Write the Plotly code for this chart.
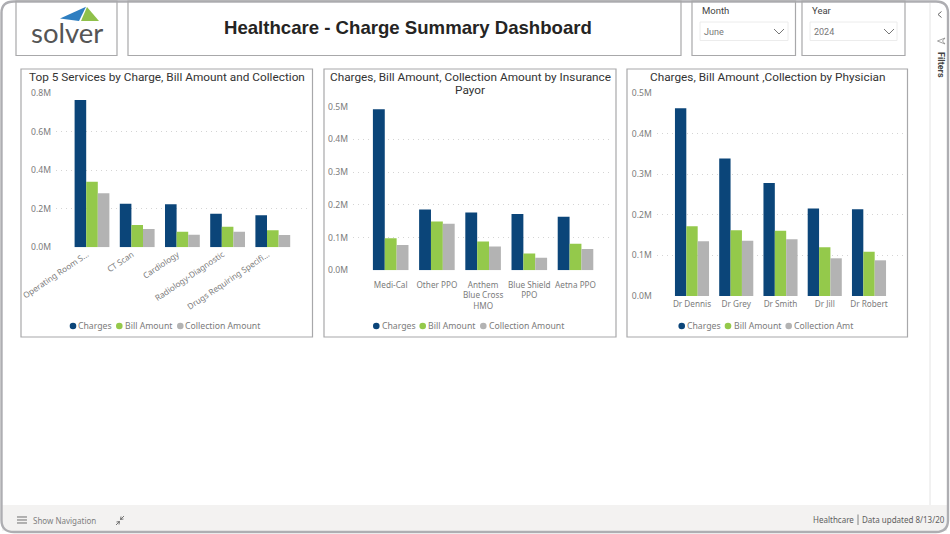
import plotly.graph_objects as go

W, H = 950, 534
NAVY, GREEN, GREY = "#0b4579", "#94c94b", "#b3b3b3"
TXT = "#7b7b7b"
EDGE = "#a8a8aa"

services = ["Operating Room S...", "CT Scan", "Cardiology", "Radiology-Diagnostic", "Drugs Requiring Specifi..."]
svc_charges = [0.764, 0.226, 0.223, 0.174, 0.166]
svc_bill = [0.340, 0.116, 0.081, 0.107, 0.088]
svc_coll = [0.280, 0.095, 0.065, 0.081, 0.064]

payors = ["Medi-Cal", "Other PPO", "Anthem<br>Blue Cross<br>HMO", "Blue Shield<br>PPO", "Aetna PPO"]
pay_charges = [0.492, 0.186, 0.177, 0.172, 0.164]
pay_bill = [0.098, 0.149, 0.088, 0.051, 0.081]
pay_coll = [0.077, 0.142, 0.073, 0.038, 0.065]

physicians = ["Dr Dennis", "Dr Grey", "Dr Smith", "Dr Jill", "Dr Robert"]
phy_charges = [0.463, 0.339, 0.279, 0.216, 0.214]
phy_bill = [0.172, 0.162, 0.161, 0.120, 0.109]
phy_coll = [0.135, 0.136, 0.140, 0.093, 0.088]


def px(x):
    return x / W


def py(y):
    return 1 - y / H


charts = [
    dict(cats=services, s=(svc_charges, svc_bill, svc_coll), names=("Charges", "Bill Amount", "Collection Amount"),
         x0=56, x1=310, ytop=93, ybot=247.3, first=92, step=45.2, ymax=0.8, dtick=0.2, angle=-34, standoff=0, shift=-5,
         panel=(21, 69, 312.5, 337), title=["Top 5 Services by Charge, Bill Amount and Collection"], title_y=[77],
         leg_c=(73, 119.3, 180.3), leg_t=(78.3, 124.7, 185.3)),
    dict(cats=payors, s=(pay_charges, pay_bill, pay_coll), names=("Charges", "Bill Amount", "Collection Amount"),
         x0=353, x1=613, ytop=106.7, ybot=270.3, first=390.7, step=46.2, ymax=0.5, dtick=0.1, angle=0, standoff=8, shift=0,
         panel=(324, 69, 616, 337), title=["Charges, Bill Amount, Collection Amount by Insurance", "Payor"], title_y=[77, 90],
         leg_c=(376.3, 422.7, 483.3), leg_t=(382, 428.3, 489)),
    dict(cats=physicians, s=(phy_charges, phy_bill, phy_coll), names=("Charges", "Bill Amount", "Collection Amt"),
         x0=656.7, x1=903, ytop=93.3, ybot=296, first=692, step=44.25, ymax=0.5, dtick=0.1, angle=0, standoff=2, shift=0,
         panel=(627, 69, 907.5, 337), title=["Charges, Bill Amount ,Collection by Physician"], title_y=[77],
         leg_c=(681.7, 728, 788.7), leg_t=(687, 733.7, 794.3)),
]

fig = go.Figure()
shapes, annos = [], []


def rect(x0, y0, x1, y1, line=EDGE, width=1.2, fill="rgba(0,0,0,0)", layer="below"):
    shapes.append(dict(type="rect", xref="paper", yref="paper", x0=px(x0), x1=px(x1), y0=py(y0), y1=py(y1),
                       line=dict(color=line, width=width), fillcolor=fill, layer=layer))


def path(points, fill=None, line=None, width=1, close=False):
    d = "M" + " L".join(f"{px(a):.5f},{py(b):.5f}" for a, b in points) + (" Z" if close else "")
    shapes.append(dict(type="path", xref="paper", yref="paper", path=d, fillcolor=fill or "rgba(0,0,0,0)",
                       line=dict(color=line or "rgba(0,0,0,0)", width=width), layer="below"))


def dot(x, y, r, color):
    shapes.append(dict(type="circle", xref="paper", yref="paper", x0=px(x - r), x1=px(x + r), y0=py(y + r),
                       y1=py(y - r), fillcolor=color, line=dict(width=0), layer="above"))


def text(x, y, s, size=9, color=TXT, family="Noto Sans", anchor="left", angle=0):
    if anchor == "left":
        x -= 2
    elif anchor == "right":
        x += 2
    annos.append(dict(xref="paper", yref="paper", x=px(x), y=py(y), text=s, showarrow=False, xanchor=anchor,
                      yanchor="middle", textangle=angle, align="center",
                      font=dict(size=size, color=color, family=family)))


# Bottom bar, filter pane divider and outer window frame
rect(2, 505, 947, 531, line="rgba(0,0,0,0)", width=0, fill="#f3f2f1")
shapes.append(dict(type="line", xref="paper", yref="paper", x0=px(930), x1=px(930), y0=py(3), y1=py(505),
                   line=dict(color="#e4e4e4", width=1), layer="below"))
shapes.append(dict(type="path", xref="paper", yref="paper", layer="below", fillcolor="rgba(0,0,0,0)",
                   line=dict(color="#aeaeb2", width=2.4),
                   path=(f"M{px(14)},{py(1.5)} L{px(936)},{py(1.5)} Q{px(948)},{py(1.5)} {px(948)},{py(13)} "
                         f"L{px(948)},{py(520)} Q{px(948)},{py(532)} {px(936)},{py(532)} "
                         f"L{px(14)},{py(532)} Q{px(1.5)},{py(532)} {px(1.5)},{py(520)} "
                         f"L{px(1.5)},{py(13)} Q{px(1.5)},{py(1.5)} {px(14)},{py(1.5)} Z")))

# Header boxes
rect(16, 1, 117, 55.5)
rect(128, 1, 681, 55.5)
rect(692, 1, 795.5, 55.5)
rect(802, 1, 905, 55.5)
rect(700, 22, 788, 40.5, line="#ececec", width=1)
rect(810, 22, 897, 40.5, line="#ececec", width=1)

# Logo
path([(60, 18.5), (86, 6.7), (79, 21)], fill="#2f7fc1", close=True)
path([(81, 21), (87, 7), (99, 21)], fill="#8fc04a", close=True)
text(67, 32, "solver", size=27.5, color="#555555", family="Lato", anchor="center")

# Header text
text(407.5, 27.5, "<b>Healthcare - Charge Summary Dashboard</b>", size=18.6, color="#252423",
     family="Liberation Sans", anchor="center")
text(702, 10.5, "Month", size=9.5, color="#444444", family="Roboto")
text(812, 10.5, "Year", size=9.5, color="#444444", family="Roboto")
text(704, 32, "June", size=9, color="#777777", family="Roboto")
text(814, 32, "2024", size=9, color="#777777", family="Roboto")
path([(774, 29), (779, 34), (784, 29)], line="#777777", width=1)
path([(884, 29), (889, 34), (894, 29)], line="#777777", width=1)

# Filter pane
path([(941.5, 11.5), (938, 14.5), (941.5, 17.5)], line="#666666", width=1)
path([(945, 38), (937.5, 41), (945, 44), (942.5, 41), (945, 38)], line="#888888", width=0.8)
text(941, 65, "<b>Filters</b>", size=9, color="#444444", family="Roboto", anchor="center", angle=90)

# Footer
for yy in (517, 520, 523):
    path([(17, yy), (27, yy)], line="#707070", width=1)
text(33, 520.5, "Show Navigation", size=8, color="#808080")
path([(116, 525), (119.5, 521.5)], line="#666666", width=0.9)
path([(116.5, 522), (119.5, 521.5), (119, 524.5)], line="#666666", width=0.9)
path([(124, 516), (120.5, 519.5)], line="#666666", width=0.9)
path([(123.5, 519), (120.5, 519.5), (121, 516.5)], line="#666666", width=0.9)
text(813, 519.5, "Healthcare", size=8, color="#606060")
path([(858, 514.5), (858, 525)], line="#777777", width=0.9)
text(945, 519.5, "Data updated 8/13/20", size=8, color="#606060", anchor="right")

# Charts
for i, c in enumerate(charts, start=1):
    suffix = "" if i == 1 else str(i)
    rect(*c["panel"])
    for color, name, vals in zip((NAVY, GREEN, GREY), c["names"], c["s"]):
        fig.add_trace(go.Bar(x=c["cats"], y=vals, name=name, marker=dict(color=color, line=dict(width=0)),
                             xaxis=f"x{suffix}", yaxis=f"y{suffix}", showlegend=False))
    xr = [(c["x0"] - c["first"]) / c["step"], (c["x1"] - c["first"]) / c["step"]]
    fig.update_layout({
        f"xaxis{suffix}": dict(domain=[px(c["x0"]), px(c["x1"])], anchor=f"y{suffix}", type="category",
                               range=xr, showgrid=False, zeroline=False, showline=False, ticks="",
                               tickangle=c["angle"], tickfont=dict(size=8.2, color=TXT, family="Noto Sans"),
                               ticklabelstandoff=c["standoff"], ticklabelshift=c["shift"],
                               categoryorder="array", categoryarray=c["cats"], automargin=False),
        f"yaxis{suffix}": dict(domain=[py(c["ybot"]), py(c["ytop"])], anchor=f"x{suffix}", range=[0, c["ymax"]],
                               dtick=c["dtick"], tickformat=".1f", ticksuffix="M", ticks="",
                               showgrid=True, griddash="1px,4px", gridcolor="#d4d4d4", gridwidth=1,
                               zeroline=False, showline=False, automargin=False, ticklabelstandoff=4,
                               tickfont=dict(size=8.6, color=TXT, family="Noto Sans")),
    })
    cx = (c["panel"][0] + c["panel"][2]) / 2
    for line, ty in zip(c["title"], c["title_y"]):
        text(cx, ty, line, size=11.8, color="#333333", family="Roboto", anchor="center")
    for color, name, lc, lt in zip((NAVY, GREEN, GREY), c["names"], c["leg_c"], c["leg_t"]):
        dot(lc, 326, 3.3, color)
        text(lt, 326, name, size=8.7, color=TXT)

fig.update_layout(width=W, height=H, autosize=False, margin=dict(l=0, r=0, t=0, b=0),
                  paper_bgcolor="white", plot_bgcolor="rgba(0,0,0,0)", barmode="group", bargap=0.23, bargroupgap=0,
                  shapes=shapes, annotations=annos, showlegend=False)

fig.write_html("out.html", config=dict(displayModeBar=False),
               post_script="document.body.style.margin='0';")
